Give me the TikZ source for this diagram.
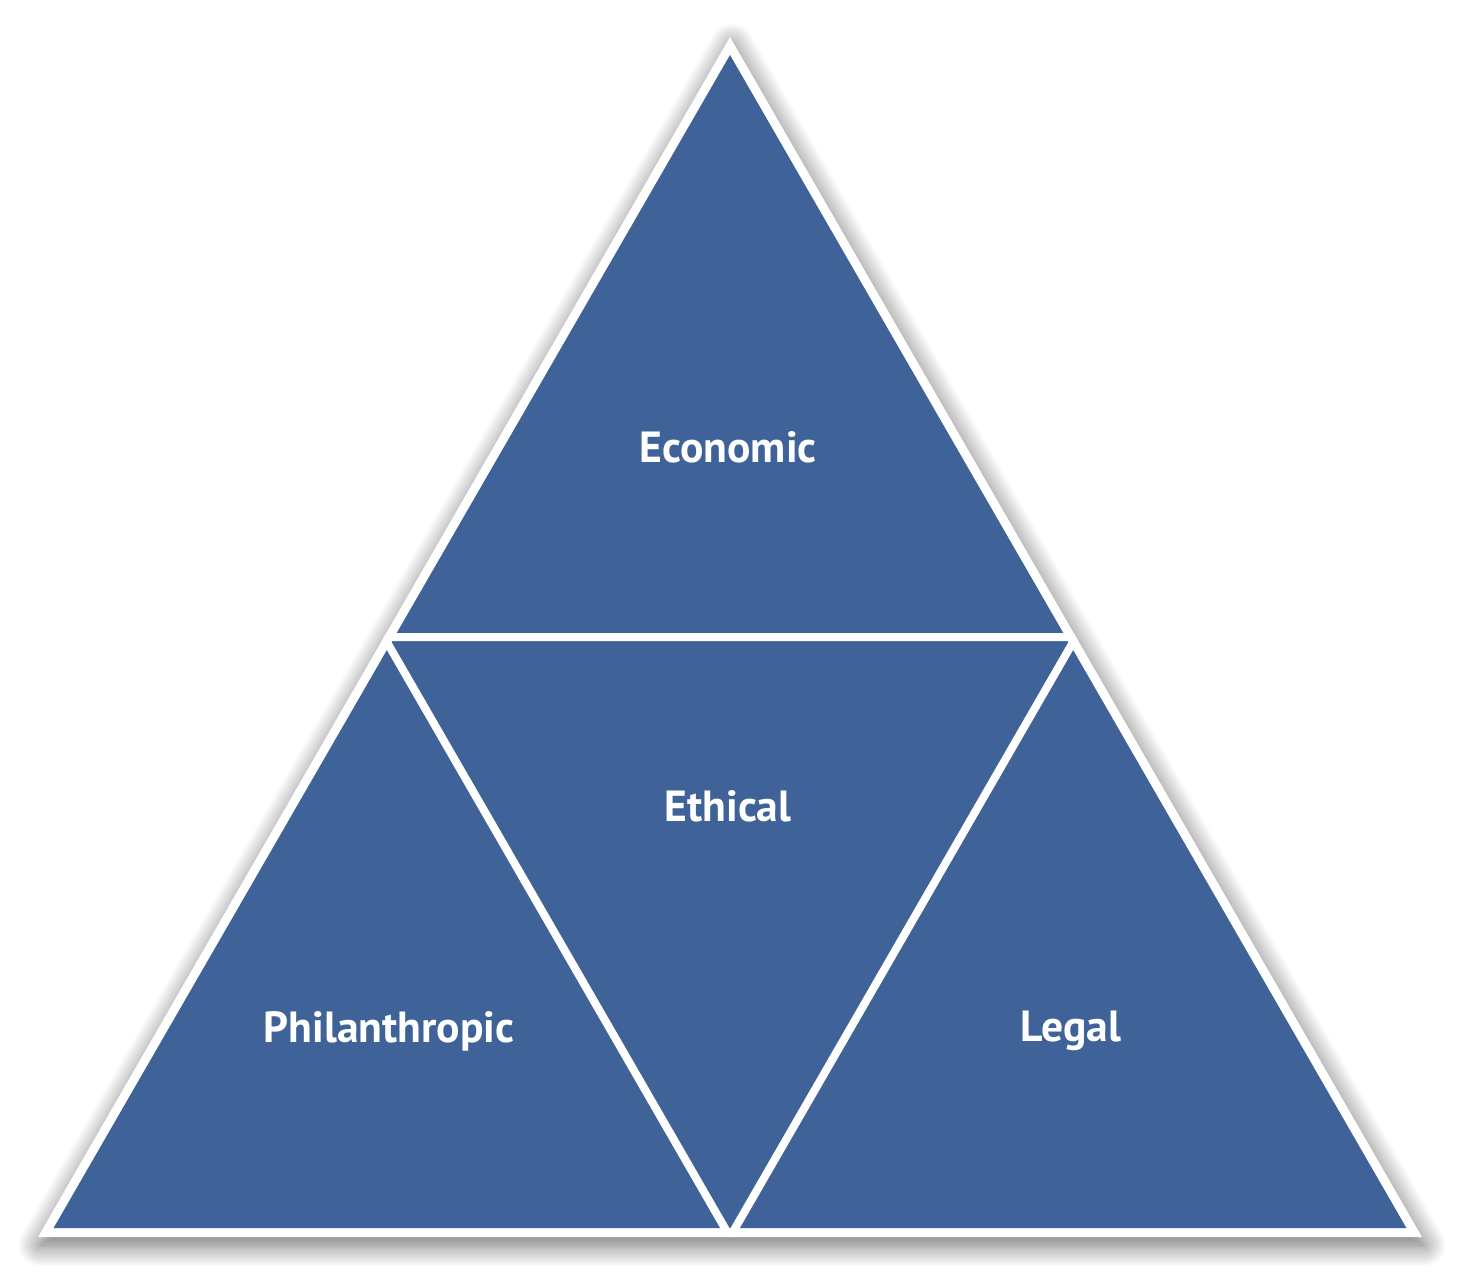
\documentclass[tikz,border=0pt]{standalone}
\usepackage{fontspec}
\setmainfont{PT Sans}
\usetikzlibrary{shadows.blur,calc}
\definecolor{cblue}{HTML}{3F6399}
\begin{document}
\begin{tikzpicture}[x=0.5pt,y=-0.5pt,
  lbl/.style={text=white,font=\bfseries\fontsize{21.8}{26}\selectfont,inner sep=0pt},
  divline/.style={white,line width=4pt}]
\useasboundingbox (0,0) rectangle (1462,1276);
\coordinate (A) at (730,37);
\coordinate (B) at (38,1237);
\coordinate (C) at (1422,1237);
\fill[white, blur shadow={shadow xshift=1pt, shadow yshift=-4pt, shadow blur radius=11pt, shadow blur steps=20, shadow opacity=60}] (A)--(B)--(C)--cycle;
\fill[cblue] (730,55)--(53.6,1228)--(1406.4,1228)--cycle;
\coordinate (AB) at ($(A)!0.5!(B)$);
\coordinate (AC) at ($(A)!0.5!(C)$);
\coordinate (BC) at ($(B)!0.5!(C)$);
\begin{scope}
\clip (A)--(B)--(C)--cycle;
\draw[divline] (AB) -- (AC) -- (BC) -- cycle;
\end{scope}
\node[lbl] (eco) at (728,447) {Economic};
\node[lbl] (eth) at (728,806) {Ethical};
\node[lbl] (phi) at (389,1031) {Philanthropic};
\node[lbl] (leg) at (1071,1031) {Legal};
\end{tikzpicture}
\end{document}
